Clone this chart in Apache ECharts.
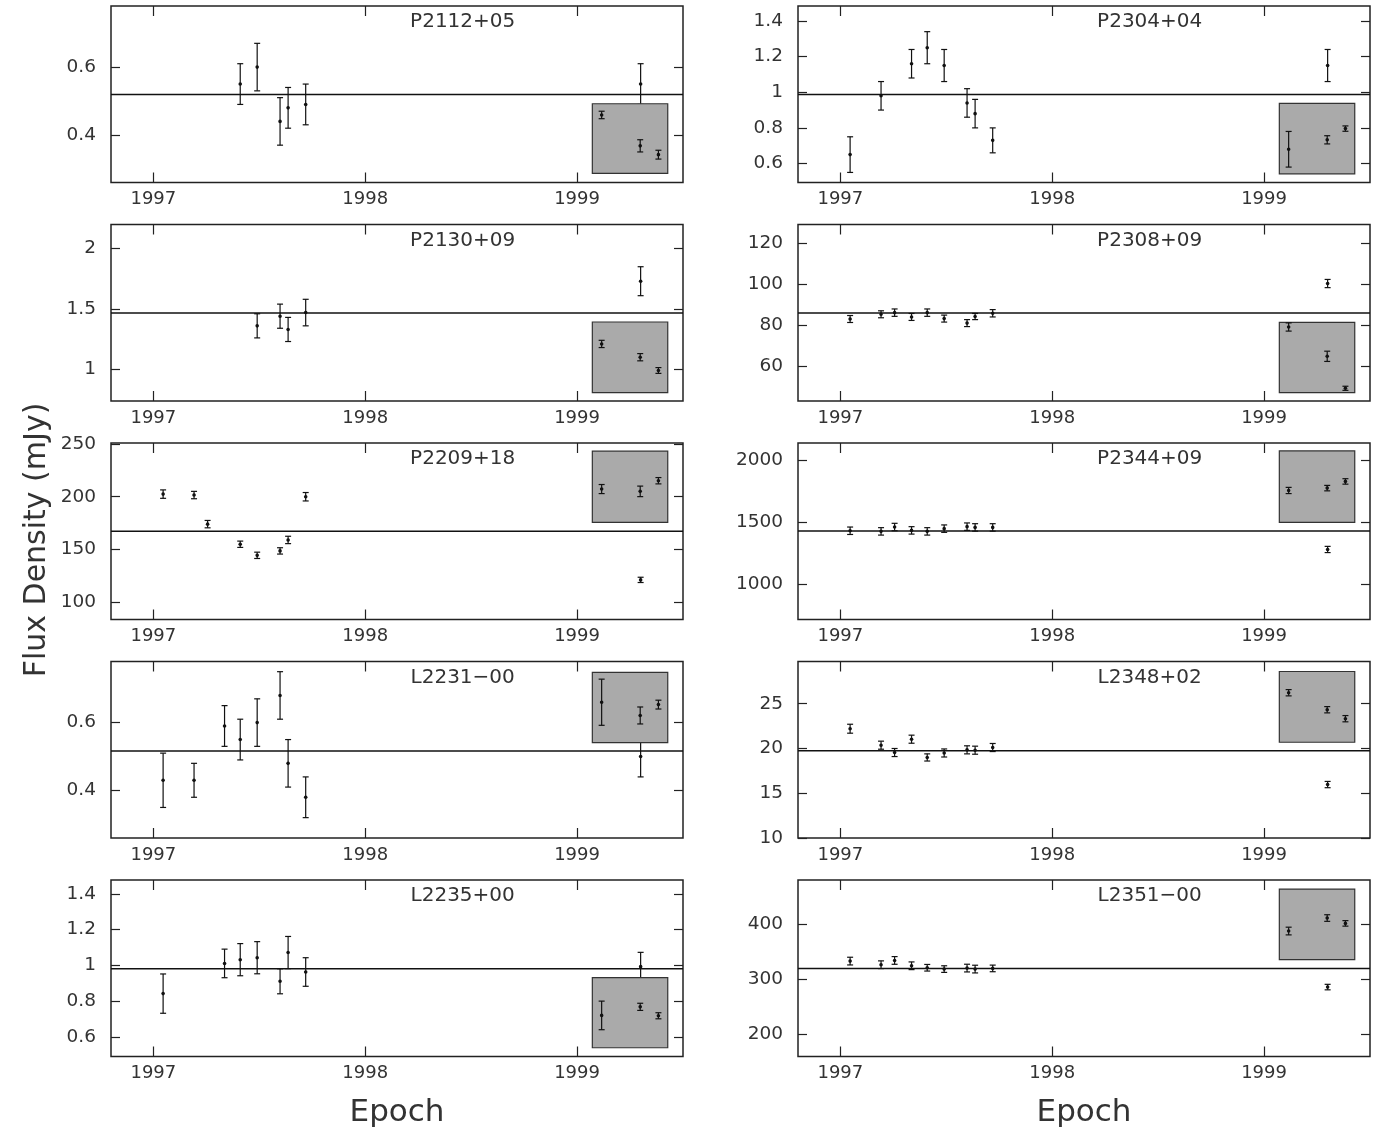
<!DOCTYPE html>
<html>
<head>
<meta charset="utf-8">
<script src="https://cdn.jsdelivr.net/npm/echarts@6/dist/echarts.min.js"></script>
<style>
html,body{margin:0;padding:0;background:#fff;}
#chart{width:1386px;height:1136px;}
</style>
</head>
<body>
<div id="chart"></div>
<script>
// epochs (decimal years) shared by all sources
const EPOCHS = [1997.046, 1997.192, 1997.256, 1997.336, 1997.41, 1997.49, 1997.598, 1997.636, 1997.719, 1999.30];
const INSET_EPOCHS = [1999.116, 1999.298, 1999.384];
const INSET_X = [1999.072, 1999.428];
const YEARS = [1997, 1998, 1999];

// left column top->bottom, then right column top->bottom
const NAMES = ['P2112+05', 'P2130+09', 'P2209+18', 'L2231\u221200', 'L2235+00',
               'P2304+04', 'P2308+09', 'P2344+09', 'L2348+02', 'L2351\u221200'];

const FLUX = [
    [null, null, null, null, 0.55, 0.60, 0.44, 0.48, 0.49, 0.55],
    [null, null, null, null, null, 1.36, 1.44, 1.33, 1.47, 1.73],
    [202.5, 201.6, 174.0, null, 154.9, 144.4, 148.6, 159.0, 200.0, 121.1],
    [0.43, 0.43, null, 0.59, 0.55, 0.60, 0.68, 0.48, 0.38, 0.50],
    [0.842, null, null, 1.011, 1.032, 1.043, 0.911, 1.072, 0.963, 0.993],
    [0.65, 0.98, null, 1.16, 1.25, 1.15, 0.94, 0.88, 0.73, 1.15],
    [83.2, 85.5, 86.3, 84.2, 86.3, 83.4, 81.2, 84.4, 86.0, 100.5],
    [1432, 1427, 1462, 1435, 1427, 1449, 1465, 1459, 1459, 1281],
    [22.21, 20.37, 19.55, 21.04, 19.0, 19.5, 19.85, 19.81, 20.11, 15.97],
    [332.7, 326.1, 333.9, 324.2, 320.6, 318.2, 320.0, 318.2, 319.4, 285.5]
];
const FLUX_ERR = [
    [null, null, null, null, 0.06, 0.07, 0.07, 0.06, 0.06, 0.06],
    [null, null, null, null, null, 0.10, 0.10, 0.10, 0.11, 0.12],
    [4, 3.5, 3.5, null, 3, 3, 3, 3.5, 4, 2.5],
    [0.08, 0.05, null, 0.06, 0.06, 0.07, 0.07, 0.07, 0.06, 0.06],
    [0.11, null, null, 0.08, 0.09, 0.09, 0.07, 0.09, 0.08, 0.08],
    [0.10, 0.08, null, 0.08, 0.09, 0.09, 0.08, 0.08, 0.07, 0.09],
    [1.7, 1.7, 1.8, 1.7, 1.8, 1.7, 1.7, 1.5, 1.8, 2.0],
    [30, 30, 30, 30, 30, 30, 30, 30, 30, 25],
    [0.5, 0.45, 0.45, 0.45, 0.4, 0.45, 0.45, 0.45, 0.45, 0.35],
    [7, 7, 7, 7, 6, 6, 7, 7, 6, 5]
];
const MEAN = [0.519, 1.467, 167.3, 0.516, 0.981, 0.987, 86.1, 1430, 19.74, 319.4];

const INSET_FLUX = [
    [0.459, 0.368, 0.342],
    [1.21, 1.10, 0.99],
    [207.3, 205.1, 215.2],
    [0.66, 0.621, 0.653],
    [0.72, 0.768, 0.718],
    [0.68, 0.733, 0.796],
    [79.3, 65.0, 49.4],
    [1757, 1776, 1830],
    [26.23, 24.33, 23.33],
    [387.3, 410.9, 401.2]
];
const INSET_ERR = [
    [0.011, 0.018, 0.013],
    [0.03, 0.03, 0.024],
    [4.3, 5, 3],
    [0.068, 0.025, 0.013],
    [0.08, 0.02, 0.017],
    [0.10, 0.023, 0.015],
    [2, 2.5, 1],
    [25, 22, 22],
    [0.35, 0.35, 0.35],
    [7, 6, 5]
];
const INSET_BOX_Y = [
    [0.287, 0.492], [0.806, 1.392], [175.6, 243.2], [0.541, 0.748], [0.539, 0.931],
    [0.542, 0.938], [47.3, 81.6], [1500, 2076], [20.7, 28.6], [335.2, 463.6]
];

const Y_MIN = [0.26, 0.737, 83.5, 0.26, 0.49, 0.4935, 43.2, 716, 10, 159.4];
const Y_MAX = [0.78, 2.2, 251, 0.78, 1.478, 1.484, 129.3, 2140, 29.72, 480];
const Y_TICKS = [
    [0.4, 0.6], [1, 1.5, 2], [100, 150, 200, 250], [0.4, 0.6], [0.6, 0.8, 1, 1.2, 1.4],
    [0.6, 0.8, 1, 1.2, 1.4], [60, 80, 100, 120], [1000, 1500, 2000], [10, 15, 20, 25], [200, 300, 400]
];

const X_MIN = 1996.8, X_MAX = 1999.5;
const COL_LEFT = [111, 798];
const ROW_TOP = [6, 224.5, 443, 661.5, 880];
const PW = 572, PH = 176.5;
const FONT = '"DejaVu Sans ExtraLight", "DejaVu Sans", sans-serif';
const INK = '#222';
const TXT = '#333';

function errBar(params, api) {
    let x = api.value(0), y = api.value(1), e = api.value(2);
    let c = api.coord([x, y]);
    let t = api.coord([x, y + e]);
    let b = api.coord([x, y - e]);
    let w = 3;
    let st = {stroke: '#111', lineWidth: 1.2};
    return {
        type: 'group',
        children: [
            {type: 'line', shape: {x1: c[0], y1: t[1], x2: c[0], y2: b[1]}, style: st},
            {type: 'line', shape: {x1: c[0] - w, y1: t[1], x2: c[0] + w, y2: t[1]}, style: st},
            {type: 'line', shape: {x1: c[0] - w, y1: b[1], x2: c[0] + w, y2: b[1]}, style: st},
            {type: 'circle', shape: {cx: c[0], cy: c[1], r: 1.8}, style: {fill: '#111'}}
        ]
    };
}

function boxItem(params, api) {
    let a = api.coord([api.value(0), api.value(3)]);
    let b = api.coord([api.value(2), api.value(1)]);
    return {
        type: 'rect',
        shape: {x: a[0], y: a[1], width: b[0] - a[0], height: b[1] - a[1]},
        style: {fill: '#aaaaaa', stroke: '#333', lineWidth: 1.2}
    };
}

let grids = [], xAxes = [], yAxes = [], series = [], texts = [];

for (let i = 0; i < NAMES.length; i++) {
    let col = i < 5 ? 0 : 1;
    let row = i % 5;
    grids.push({
        left: COL_LEFT[col], top: ROW_TOP[row], width: PW, height: PH,
        show: true, borderColor: INK, borderWidth: 1.5, backgroundColor: 'transparent'
    });
    ['bottom', 'top'].forEach(function (pos) {
        xAxes.push({
            type: 'value', gridIndex: i, position: pos, min: X_MIN, max: X_MAX,
            axisLine: {show: false},
            splitLine: {show: false},
            axisTick: {show: true, inside: true, length: 10, customValues: YEARS, lineStyle: {color: INK, width: 1.2}},
            axisLabel: {
                show: pos === 'bottom', customValues: YEARS, margin: 8,
                fontSize: 18, fontFamily: FONT, color: TXT,
                formatter: function (v) { return String(v); }
            }
        });
    });
    ['left', 'right'].forEach(function (pos) {
        yAxes.push({
            type: 'value', gridIndex: i, position: pos, min: Y_MIN[i], max: Y_MAX[i],
            axisLine: {show: false},
            splitLine: {show: false},
            axisTick: {show: true, inside: true, length: 9, customValues: Y_TICKS[i], lineStyle: {color: INK, width: 1.2}},
            axisLabel: {
                show: pos === 'left', customValues: Y_TICKS[i], margin: 15,
                fontSize: 18.5, fontFamily: FONT, color: TXT,
                formatter: function (v) { return String(v); }
            }
        });
    });

    let pts = [];
    for (let k = 0; k < EPOCHS.length; k++) {
        if (FLUX[i][k] != null) pts.push([EPOCHS[k], FLUX[i][k], FLUX_ERR[i][k]]);
    }
    let ins = [];
    for (let k = 0; k < INSET_EPOCHS.length; k++) {
        ins.push([INSET_EPOCHS[k], INSET_FLUX[i][k], INSET_ERR[i][k]]);
    }

    series.push({
        type: 'line', xAxisIndex: 2 * i, yAxisIndex: 2 * i, z: 2,
        data: [[X_MIN, MEAN[i]], [X_MAX, MEAN[i]]],
        symbol: 'none', silent: true,
        lineStyle: {color: '#111', width: 1.5}
    });
    series.push({
        type: 'custom', xAxisIndex: 2 * i, yAxisIndex: 2 * i, z: 2,
        renderItem: errBar, encode: {x: 0, y: 1}, data: pts, silent: true
    });
    series.push({
        type: 'custom', xAxisIndex: 2 * i, yAxisIndex: 2 * i, z: 3,
        renderItem: boxItem, encode: {x: [0, 2], y: [1, 3]},
        data: [[INSET_X[0], INSET_BOX_Y[i][0], INSET_X[1], INSET_BOX_Y[i][1]]], silent: true
    });
    series.push({
        type: 'custom', xAxisIndex: 2 * i, yAxisIndex: 2 * i, z: 4,
        renderItem: errBar, encode: {x: 0, y: 1}, data: ins, silent: true
    });

    texts.push({
        type: 'text',
        x: COL_LEFT[col] + (1998.46 - X_MIN) / (X_MAX - X_MIN) * PW,
        y: ROW_TOP[row] + 16,
        style: {text: NAMES[i], font: '20px ' + FONT, fill: TXT, textAlign: 'center', textVerticalAlign: 'middle'}
    });
}

texts.push({
    type: 'text', x: 37, y: 540, rotation: Math.PI / 2,
    style: {text: 'Flux Density (mJy)', font: '30px ' + FONT, fill: TXT, textAlign: 'center', textVerticalAlign: 'middle'}
});
[0, 1].forEach(function (c) {
    texts.push({
        type: 'text', x: COL_LEFT[c] + PW / 2, y: 1113,
        style: {text: 'Epoch', font: '31px ' + FONT, fill: TXT, textAlign: 'center', textVerticalAlign: 'middle'}
    });
});

let chart = echarts.init(document.getElementById('chart'));
chart.setOption({
    animation: false,
    backgroundColor: '#fff',
    grid: grids,
    xAxis: xAxes,
    yAxis: yAxes,
    series: series,
    graphic: texts
});
</script>
</body>
</html>
